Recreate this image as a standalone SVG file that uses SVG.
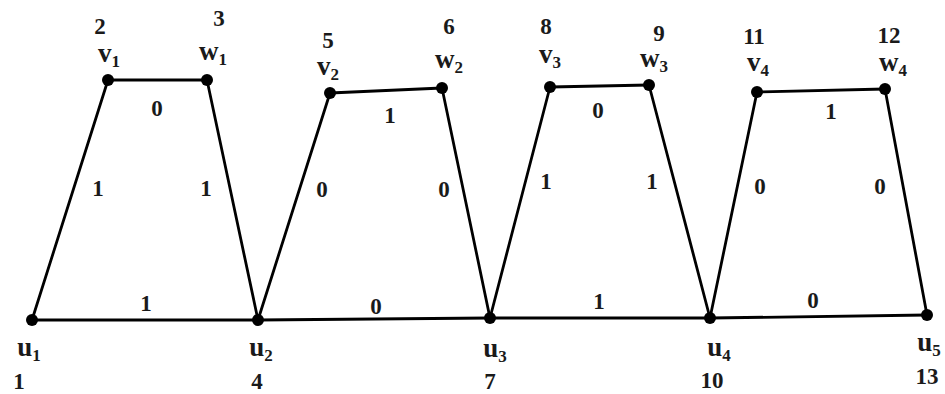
<svg xmlns="http://www.w3.org/2000/svg" width="945" height="394" viewBox="0 0 945 394">
<style>
.e{stroke:#000;stroke-width:2.8;fill:none;stroke-linecap:round}
.n{fill:#000}
.t{font-family:"Liberation Serif","DejaVu Serif",serif;font-weight:bold;font-size:23px;fill:#1a1a1a;text-anchor:middle}
.l{font-family:"Liberation Serif","DejaVu Serif",serif;font-weight:bold;font-size:27px;fill:#1a1a1a;text-anchor:middle}
.s{font-size:17px}
</style>
<rect width="945" height="394" fill="#fff"/>
<g id="connectors">
<line class="e" x1="32" y1="320" x2="108" y2="80"/>
<line class="e" x1="108" y1="80" x2="207" y2="80"/>
<line class="e" x1="207" y1="80" x2="258" y2="320"/>
<line class="e" x1="258" y1="320" x2="330" y2="93"/>
<line class="e" x1="330" y1="93" x2="442" y2="88"/>
<line class="e" x1="442" y1="88" x2="490" y2="318"/>
<line class="e" x1="490" y1="318" x2="550" y2="87"/>
<line class="e" x1="550" y1="87" x2="649" y2="85"/>
<line class="e" x1="649" y1="85" x2="710" y2="318"/>
<line class="e" x1="710" y1="318" x2="757" y2="92"/>
<line class="e" x1="757" y1="92" x2="885" y2="89"/>
<line class="e" x1="885" y1="89" x2="927" y2="315"/>
<line class="e" x1="32" y1="320" x2="258" y2="320"/>
<line class="e" x1="258" y1="320" x2="490" y2="318"/>
<line class="e" x1="490" y1="318" x2="710" y2="318"/>
<line class="e" x1="710" y1="318" x2="927" y2="315"/>
<g class="t">
<text x="157" y="116">0</text>
<text x="390" y="123">1</text>
<text x="598" y="118">0</text>
<text x="831" y="119">1</text>
<text x="98" y="196">1</text>
<text x="206" y="196">1</text>
<text x="322" y="197">0</text>
<text x="444" y="197">0</text>
<text x="546" y="189">1</text>
<text x="652" y="189">1</text>
<text x="760" y="194">0</text>
<text x="880" y="194">0</text>
<text x="146" y="311">1</text>
<text x="376" y="314">0</text>
<text x="599" y="309">1</text>
<text x="813" y="308">0</text>
</g>
</g>
<g id="u1"><circle class="n" cx="32" cy="320" r="6"/><text class="l" x="29" y="356">u<tspan class="s" dy="5">1</tspan></text><text class="t" x="19" y="389">1</text></g>
<g id="v1"><circle class="n" cx="108" cy="80" r="6"/><text class="l" x="109" y="62">v<tspan class="s" dy="5">1</tspan></text><text class="t" x="100" y="34">2</text></g>
<g id="w1"><circle class="n" cx="207" cy="80" r="6"/><text class="l" x="213" y="60">w<tspan class="s" dy="5">1</tspan></text><text class="t" x="219" y="26">3</text></g>
<g id="u2"><circle class="n" cx="258" cy="320" r="6"/><text class="l" x="261" y="356">u<tspan class="s" dy="5">2</tspan></text><text class="t" x="257" y="389">4</text></g>
<g id="v2"><circle class="n" cx="330" cy="93" r="6"/><text class="l" x="328" y="75">v<tspan class="s" dy="5">2</tspan></text><text class="t" x="328" y="48">5</text></g>
<g id="w2"><circle class="n" cx="442" cy="88" r="6"/><text class="l" x="449" y="68">w<tspan class="s" dy="5">2</tspan></text><text class="t" x="449" y="34">6</text></g>
<g id="u3"><circle class="n" cx="490" cy="318" r="6"/><text class="l" x="495" y="357">u<tspan class="s" dy="5">3</tspan></text><text class="t" x="490" y="389">7</text></g>
<g id="v3"><circle class="n" cx="550" cy="87" r="6"/><text class="l" x="550" y="63">v<tspan class="s" dy="5">3</tspan></text><text class="t" x="546" y="34">8</text></g>
<g id="w3"><circle class="n" cx="649" cy="85" r="6"/><text class="l" x="654" y="67">w<tspan class="s" dy="5">3</tspan></text><text class="t" x="659" y="41">9</text></g>
<g id="u4"><circle class="n" cx="710" cy="318" r="6"/><text class="l" x="719" y="356">u<tspan class="s" dy="5">4</tspan></text><text class="t" x="712" y="388">10</text></g>
<g id="v4"><circle class="n" cx="757" cy="92" r="6"/><text class="l" x="758" y="71">v<tspan class="s" dy="5">4</tspan></text><text class="t" x="754" y="44">11</text></g>
<g id="w4"><circle class="n" cx="885" cy="89" r="6"/><text class="l" x="893" y="71">w<tspan class="s" dy="5">4</tspan></text><text class="t" x="889" y="43">12</text></g>
<g id="u5"><circle class="n" cx="927" cy="315" r="6"/><text class="l" x="929" y="351">u<tspan class="s" dy="5">5</tspan></text><text class="t" x="927" y="384">13</text></g>
</svg>
